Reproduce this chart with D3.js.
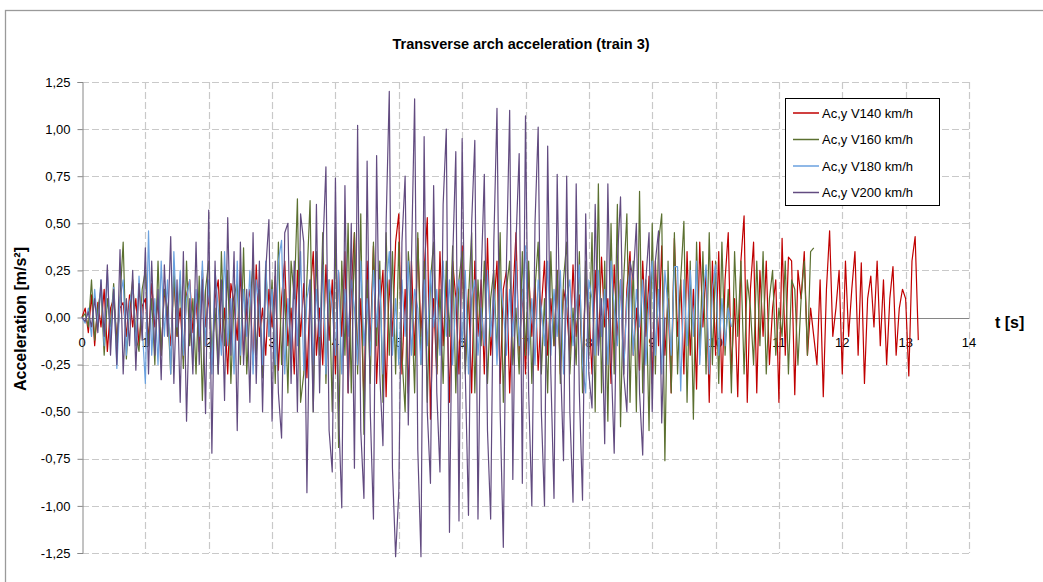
<!DOCTYPE html>
<html lang="en">
<head>
<meta charset="UTF-8">
<title>Transverse arch acceleration (train 3)</title>
<script src="https://d3js.org/d3.v7.min.js"></script>
<style>
  body { margin: 0; padding: 0; background: #fff; }
  svg { display: block; font-family: 'Liberation Sans', Arial, sans-serif; }
</style>
</head>
<body>
<svg id="chart" width="1043" height="582"></svg>
<script>
// sampling step of every series [s]
const dt = 0.05;

// Ac,y V140 km/h  (t = 0 ... 13.2 s)
const v140 = [
  0, 0.05, -0.08, 0.12, -0.15, 0.08, -0.05, 0.15, -0.18, 0.05, 0.1, -0.12, 0.05, 0.08, -0.1, 0.12, -0.05, 0.1, -0.15, 0.06,
  0.1, -0.12, 0.18, -0.05, 0.08, -0.2, 0.15, 0.02, -0.15, 0.22, -0.1, 0.05, -0.22, 0.12, 0.2, -0.08, 0.1, -0.18, 0.25, -0.05,
  0.12, -0.25, 0.1, 0.2, -0.15, 0.05, -0.3, 0.18, 0.08, -0.12, 0.25, -0.2, 0.05, 0.15, -0.25, 0.28, -0.1, 0.05, -0.2, 0.15,
  -0.05, 0.22, -0.28, 0.1, 0.3, -0.15, 0.05, -0.3, 0.25, -0.1, 0.18, -0.32, 0.12, 0.35, -0.2, 0.05, -0.25, 0.28, -0.12, 0.2,
  -0.3, 0.24, -0.1, 0.35, -0.4, 0.15, 0.45, -0.25, 0.1, -0.45, 0.3, -0.15, 0.38, -0.35, 0.05, 0.25, -0.42, 0.2, -0.1, 0.4,
  0.55, -0.3, 0.15, -0.4, 0.3, -0.2, 0.42, -0.1, 0.25, 0.53, -0.54, 0.1, -0.3, 0.35, -0.15, 0.2, -0.45, 0.3, 0.1, -0.3,
  0.38, -0.25, 0.15, -0.4, 0.3, -0.1, 0.2, -0.3, 0.42, -0.2, 0.05, 0.3, -0.35, 0.15, 0.25, -0.4, 0.1, 0.45, -0.2, 0.15,
  -0.3, 0.25, -0.1, 0.2, -0.28, 0.05, 0.3, -0.2, 0.1, -0.15, 0.25, -0.3, 0.15, 0.05, -0.2, 0.28, -0.1, 0.12, -0.25, 0.2,
  0.05, -0.3, 0.25, -0.15, 0.32, -0.05, 0.1, -0.35, 0.28, -0.12, 0.2, -0.3, 0.15, 0.35, -0.2, 0.05, -0.28, 0.3, -0.1, 0.22,
  -0.35, 0.3, -0.15, 0.38, -0.2, 0.1, -0.4, 0.42, -0.1, 0.2, -0.3, 0.35, -0.2, 0.15, -0.38, 0.4, -0.05, 0.25, -0.45, 0.3,
  -0.2, 0.35, -0.4, 0.2, 0.45, -0.3, 0.1, -0.42, 0.3, 0.54, -0.45, 0.15, 0.4, -0.4, 0.25, -0.1, 0.3, -0.25, 0.05, 0.2,
  -0.45, 0.42, -0.2, 0.32, 0.3, -0.41, 0.25, 0.1, 0.35, -0.2, 0.05, -0.1, -0.25, 0.2, -0.42, 0.15, 0.46, -0.1, 0.05, 0.25,
  -0.3, 0.3, -0.1, 0.15, 0.35, -0.2, 0.29, -0.35, 0.1, 0.22, -0.05, 0.3, -0.15, 0.2, -0.25, 0.1, 0.27, -0.2, 0.05, 0.15,
  0.1, -0.31, 0.3, 0.43, -0.12
];

// Ac,y V160 km/h  (t = 0 ... 11.55 s)
const v160 = [
  0, 0.02, -0.05, 0.2, -0.12, 0.05, 0.15, -0.2, 0.1, -0.05, 0.18, -0.15, 0.1, 0.4, -0.22, 0.05, 0.2, -0.1, -0.18, 0.15,
  0.25, -0.15, 0.1, -0.25, 0.3, -0.2, 0.15, 0.05, -0.3, 0.25, -0.1, 0.2, -0.27, 0.3, -0.15, 0.1, -0.3, 0.22, -0.44, 0.15,
  0.3, -0.2, 0.05, -0.3, 0.35, -0.15, 0.25, -0.35, 0.1, 0.2, -0.25, 0.37, -0.3, 0.05, 0.3, -0.2, 0.15, -0.32, 0.28, -0.1,
  0.2, -0.35, 0.4, -0.25, 0.15, -0.4, 0.3, 0.1, 0.63, -0.45, -0.3, 0.2, 0.62, -0.5, 0.35, -0.2, 0.45, -0.35, 0.2, -0.5,
  0.48, -0.69, 0.3, -0.2, 0.5, -0.4, 0.45, -0.3, 0.55, -0.62, 0.2, -0.35, 0.4, -0.15, 0.3, -0.45, 0.45, -0.2, 0.35, -0.3,
  0.4, -0.2, -0.5, 0.35, 0.1, -0.4, 0.45, -0.25, 0.3, -0.45, 0.2, 0.4, -0.3, 0.15, -0.35, 0.3, -0.1, 0.38, -0.4, 0.2,
  0.35, -0.3, 0.1, 0.45, -0.4, 0.2, -0.15, 0.3, -0.35, 0.1, 0.25, -0.2, 0.45, -0.45, 0.15, 0.3, -0.25, 0.05, -0.3, 0.35,
  -0.2, 0.3, -0.35, 0.15, 0.4, -0.3, 0.1, -0.4, 0.35, -0.15, 0.25, -0.35, 0.2, 0.4, -0.3, 0.05, -0.25, 0.35, -0.4, 0.3,
  -0.2, 0.45, -0.5, 0.71, -0.4, 0.3, -0.55, 0.5, -0.3, 0.6, -0.58, 0.2, 0.55, -0.45, 0.3, -0.5, 0.67, -0.4, 0.2, -0.6,
  0.5, -0.3, 0.4, 0.55, -0.76, 0.3, -0.4, 0.45, -0.3, 0.2, 0.51, -0.45, 0.3, -0.54, 0.4, -0.2, 0.35, -0.3, 0.45, -0.25,
  0.3, -0.35, 0.4, -0.2, 0.15, -0.4, 0.35, -0.1, 0.3, -0.3, 0.2, 0.05, -0.25, 0.3, -0.15, 0.35, -0.3, 0.1, 0.25, -0.2,
  0.05, -0.1, 0.3, -0.3, 0.2, 0.15, -0.25, 0.1, 0.3, -0.2, 0.35, 0.37
];

// Ac,y V180 km/h  (t = 0 ... 10.25 s)
const v180 = [
  0, -0.03, 0.05, -0.1, 0.15, -0.05, 0.2, -0.15, 0.25, -0.12, 0.16, -0.27, 0.1, 0.2, -0.2, 0.08, 0.15, -0.15, 0.22, -0.05,
  -0.35, 0.46, -0.2, 0.1, -0.25, 0.3, -0.1, 0.2, -0.3, 0.35, -0.05, 0.25, -0.2, 0.1, 0.2, -0.25, 0.15, -0.1, 0.3, -0.15,
  0.2, -0.3, 0.25, 0.05, -0.2, 0.35, -0.15, 0.1, -0.3, 0.3, -0.2, 0.15, -0.1, 0.25, -0.3, 0.2, 0.05, -0.25, 0.3, -0.1,
  0.15, -0.25, 0.3, 0.41, -0.3, 0.1, -0.2, 0.25, -0.15, 0.35, -0.28, 0.1, 0.2, -0.25, 0.15, -0.1, 0.28, -0.3, 0.2, 0.05,
  -0.2, 0.25, -0.3, 0.15, -0.1, 0.2, 0.05, -0.25, 0.3, -0.15, 0.1, -0.2, 0.25, -0.05, 0.2, -0.3, 0.15, 0.35, -0.2, 0.1,
  -0.25, 0.2, -0.1, 0.3, -0.2, 0.15, 0.05, -0.25, 0.2, -0.15, 0.25, -0.05, 0.15, -0.2, 0.3, -0.1, 0.2, -0.25, 0.1, 0.2,
  -0.15, 0.25, -0.3, 0.1, 0.2, -0.2, 0.05, -0.15, 0.25, -0.1, 0.15, -0.25, 0.2, 0.05, -0.2, 0.15, -0.1, 0.3, -0.15, 0.1,
  0.38, -0.2, 0.1, -0.25, 0.2, 0.05, -0.15, 0.3, -0.2, 0.15, -0.1, 0.25, -0.3, 0.1, 0.2, -0.15, 0.05, 0.28, -0.25, -0.4,
  0.2, 0.1, -0.2, 0.25, -0.1, 0.15, -0.25, 0.3, 0.05, -0.15, 0.2, -0.3, 0.1, 0.25, -0.2, 0.15, -0.05, 0.2, -0.25, 0.1,
  0.3, -0.2, 0.15, -0.3, 0.25, 0.05, -0.2, 0.27, 0.27, -0.39, 0.2, -0.15, 0.25, -0.1, 0.3, -0.25, 0.1, 0.28, -0.3, 0.15,
  0.28, -0.2, 0.1, -0.15, 0.05, -0.05
];

// Ac,y V200 km/h  (t = 0 ... 9.2 s)
const v200 = [
  0, -0.02, 0.03, -0.05, 0.1, -0.08, 0.2, -0.1, 0.28, -0.2, 0.15, -0.25, 0.36, -0.3, 0.1, -0.15, 0.25, -0.28, 0.18, -0.12,
  0.37, -0.3, 0.3, -0.2, 0.15, -0.33, 0.28, -0.1, 0.43, -0.35, 0.2, -0.45, 0.35, -0.55, 0.1, -0.3, 0.4, -0.25, 0.2, -0.51,
  0.57, -0.72, 0.3, -0.3, 0.2, -0.44, 0.53, -0.2, 0.35, -0.6, 0.4, -0.25, 0.15, -0.45, 0.45, -0.35, 0.3, -0.5, 0.25, 0.52,
  -0.55, 0.3, -0.4, -0.64, 0.45, 0.5, -0.35, 0.3, -0.5, 0.55, 0.4, -0.93, 0.2, -0.5, 0.6, -0.4, 0.35, 0.8, -0.6, -0.82,
  0.74, -0.5, -1.01, 0.7, -0.4, 0.5, -0.8, 1.02, -0.6, -0.96, 0.83, -0.5, -1.07, 0.86, -0.3, -0.68, 0.5, 1.2, -0.8, -1.27,
  -0.93, 0.4, 0.75, -0.57, 0.3, 1.16, -0.7, -1.27, 0.96, -0.5, -0.88, 0.7, -0.4, -0.82, 0.6, 1.0, -1.14, 0.3, 0.88, -1.08,
  0.95, -0.3, -1.05, 0.5, 0.94, -1.07, 0.2, 0.76, -0.6, -1.07, 0.4, 1.11, -0.5, -1.22, 0.3, 1.1, -0.86, 0.4, 0.87, -0.88,
  1.07, -0.4, -1.0, 0.5, 1.01, -0.5, -1.0, 0.91, -0.3, -0.96, 0.76, -0.2, -0.76, 0.75, -0.5, -0.98, 0.71, -0.4, -0.97, 0.55,
  -0.3, -0.48, 0.6, -0.2, 0.1, -0.67, 0.71, -0.2, -0.72, 0.3, 0.64, -0.3, -0.5, 0.3, 0.2, 0.5, -0.4, -0.73, 0.2, 0.45,
  -0.5, 0.3, 0.46, -0.56, 0
];

const seriesNames = ["Ac,y V140 km/h", "Ac,y V160 km/h", "Ac,y V180 km/h", "Ac,y V200 km/h"];
const seriesColors = ["#c00000", "#5b7030", "#6aa1df", "#624b80"];
const seriesValues = [v140, v160, v180, v200];

const xTicks = d3.range(0, 15, 1);
const yTicks = [-1.25, -1, -0.75, -0.5, -0.25, 0, 0.25, 0.5, 0.75, 1, 1.25];

const svg = d3.select("#chart");

// outer chart frame (only left/top edges visible in the picture)
svg.append("rect")
  .attr("x", 5.5).attr("y", 10.5)
  .attr("width", 1200).attr("height", 800)
  .attr("fill", "#fff").attr("stroke", "#9a9a9a").attr("stroke-width", 1.3);

const x = d3.scaleLinear().domain([0, 14]).range([82, 969]);
const y = d3.scaleLinear().domain([-1.25, 1.25]).range([553, 82]);

const fmt = v => d3.format(".2f")(v).replace(".", ",").replace("−", "-");

// gridlines
svg.append("g")
  .selectAll("line")
  .data(yTicks.filter(d => d !== 0))
  .join("line")
  .attr("x1", x(0)).attr("x2", x(14))
  .attr("y1", d => Math.round(y(d)) + 0.5).attr("y2", d => Math.round(y(d)) + 0.5)
  .attr("stroke", "#c9c9c9").attr("stroke-width", 1.2).attr("stroke-dasharray", "7,3");

svg.append("g")
  .selectAll("line")
  .data(xTicks.filter(d => d !== 0))
  .join("line")
  .attr("x1", d => Math.round(x(d)) + 0.5).attr("x2", d => Math.round(x(d)) + 0.5)
  .attr("y1", y(1.25)).attr("y2", y(-1.25))
  .attr("stroke", "#c9c9c9").attr("stroke-width", 1.2).attr("stroke-dasharray", "7,3");

// y axis
const yAxis = svg.append("g")
  .attr("transform", "translate(82.5,0)")
  .call(d3.axisLeft(y).tickValues(yTicks).tickFormat(fmt).tickSize(5).tickPadding(7));
yAxis.select(".domain").attr("stroke", "#868686");
yAxis.selectAll(".tick line").attr("stroke", "#868686");
yAxis.selectAll(".tick text")
  .attr("fill", "#000").style("font-size", "13px")
  .style("font-family", "'Liberation Sans', Arial, sans-serif");

// x axis along zero line
svg.append("line")
  .attr("x1", x(0)).attr("x2", x(14))
  .attr("y1", Math.round(y(0)) + 0.5).attr("y2", Math.round(y(0)) + 0.5)
  .attr("stroke", "#868686").attr("stroke-width", 1.2);

svg.append("g")
  .selectAll("text")
  .data(xTicks)
  .join("text")
  .attr("x", d => x(d))
  .attr("y", y(0) + 29)
  .attr("text-anchor", "middle")
  .style("font-size", "13px")
  .text(d => d);

// series
const line = d3.line()
  .x((d, i) => x(i * dt))
  .y(d => y(d));

svg.append("g")
  .selectAll("path")
  .data(seriesValues)
  .join("path")
  .attr("d", d => line(d))
  .attr("fill", "none")
  .attr("stroke", (d, i) => seriesColors[i])
  .attr("stroke-width", 1.2)
  .attr("stroke-linejoin", "round");

// title and axis titles
svg.append("text")
  .attr("x", 521).attr("y", 49)
  .attr("text-anchor", "middle")
  .style("font-size", "14.5px").style("font-weight", "bold")
  .text("Transverse arch acceleration (train 3)");

svg.append("text")
  .attr("x", 995).attr("y", 328)
  .style("font-size", "16px").style("font-weight", "bold")
  .text("t [s]");

svg.append("text")
  .attr("transform", "translate(26,319) rotate(-90)")
  .attr("text-anchor", "middle")
  .style("font-size", "16px").style("font-weight", "bold")
  .text("Acceleration [m/s²]");

// legend
const legend = svg.append("g").attr("transform", "translate(785,98)");
legend.append("rect")
  .attr("x", 0.5).attr("y", 0.5)
  .attr("width", 154).attr("height", 107)
  .attr("fill", "#fff").attr("stroke", "#000").attr("stroke-width", 1);

const item = legend.selectAll("g.item")
  .data(seriesNames)
  .join("g")
  .attr("class", "item")
  .attr("transform", (d, i) => `translate(0,${15 + i * 26.5})`);
item.append("line")
  .attr("x1", 8).attr("x2", 34)
  .attr("stroke", (d, i) => seriesColors[i]).attr("stroke-width", 1.5);
item.append("text")
  .attr("x", 37).attr("y", 4.5)
  .style("font-size", "13px")
  .text(d => d);
</script>
</body>
</html>
